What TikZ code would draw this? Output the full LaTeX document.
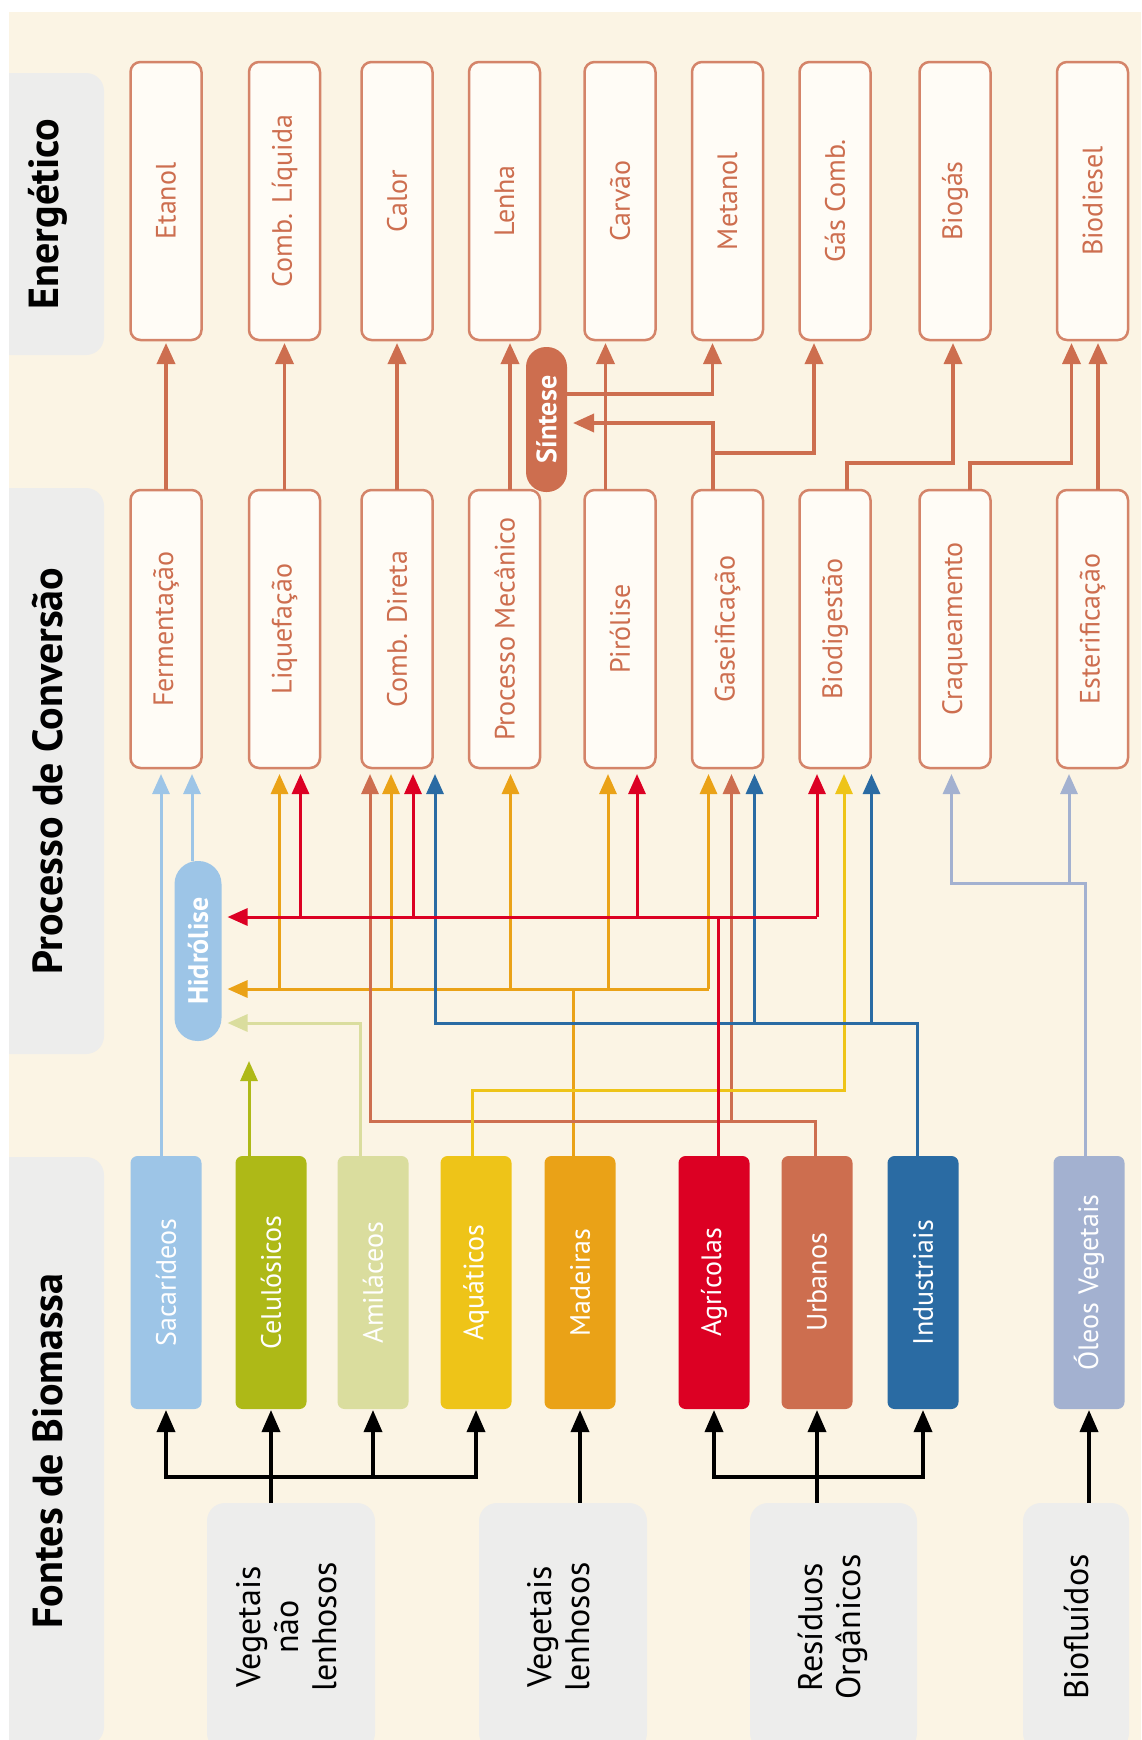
\documentclass[tikz,border=0pt]{standalone}
\usepackage{fontspec}
\setmainfont{PT Sans}
\usepackage{tikz}
\usetikzlibrary{positioning,arrows.meta}
\definecolor{bgcream}{HTML}{FBF4E4}
\definecolor{panelgrey}{HTML}{EDEDEC}
\definecolor{terra}{HTML}{CD6E4F}
\definecolor{boxfill}{HTML}{FFFCF6}
\definecolor{sacblue}{HTML}{9DC5E7}
\definecolor{celgreen}{HTML}{AEB917}
\definecolor{amipale}{HTML}{DADD9E}
\definecolor{aquyellow}{HTML}{EEC418}
\definecolor{madorange}{HTML}{EAA217}
\definecolor{agrred}{HTML}{DC0023}
\definecolor{indblue}{HTML}{2A6BA3}
\definecolor{olelilac}{HTML}{A3B1D0}

\begin{document}
\begin{tikzpicture}[x=1pt, y=-1pt,
    enbox/.style={draw=terra!85, fill=boxfill, line width=2.5pt, rounded corners=10pt, minimum width=71pt, minimum height=278pt, inner sep=0pt, outer sep=0pt, text=terra, font=\fontsize{28}{32}\selectfont},
    srcbox/.style={fill=#1, rounded corners=7pt, minimum width=71pt, minimum height=253pt, inner sep=0pt, outer sep=0pt, text=white, font=\fontsize{28}{32}\selectfont},
    pill/.style={fill=#1, rounded corners=20pt, inner sep=0pt, outer sep=0pt, text=white, font=\bfseries\fontsize{28}{32}\selectfont},
    panel/.style={fill=panelgrey, rounded corners=18pt, inner sep=0pt, outer sep=0pt, minimum width=112pt, font=\bfseries\fontsize{42}{46}\selectfont},
    grp/.style={fill=panelgrey, rounded corners=18pt, inner sep=0pt, outer sep=0pt, minimum height=248pt, font=\fontsize{34}{38}\selectfont},
    wire/.style={line width=3pt, draw=#1},
    feed/.style={wire=#1, -{Triangle[width=17pt,length=20pt]}, shorten >=6pt},
    outarr/.style={line width=3.5pt, draw=terra, -{Triangle[width=18pt,length=21pt]}, shorten >=3pt},
    blkarr/.style={line width=3.5pt, -{Triangle[width=18pt,length=22pt]}, shorten >=1pt}]
  \useasboundingbox (0,0) rectangle (1141,1740);
  \fill[bgcream] (9,12) rectangle (1141,1740);
  \begin{scope}
    \clip (9,12) rectangle (1141,1740);
    \node[panel, minimum height=282pt] (penerg) at (48,214) {\rotatebox{90}{Energético}};
    \node[panel, minimum height=566pt] (pproc) at (48,771) {\rotatebox{90}{Processo de Conversão}};
    \node[panel, minimum height=588pt] (pfontes) at (48,1451) {\rotatebox{90}{Fontes de Biomassa}};
    \node[grp, minimum width=168pt] (gvnl) at (291,1627) {\rotatebox{90}{\begin{tabular}{@{}c@{}}Vegetais\\não\\lenhosos\end{tabular}}};
    \node[grp, minimum width=168pt] (gvl) at (563,1627) {\rotatebox{90}{\begin{tabular}{@{}c@{}}Vegetais\\lenhosos\end{tabular}}};
    \node[grp, minimum width=167pt] (gres) at (833.5,1627) {\rotatebox{90}{\begin{tabular}{@{}c@{}}Resíduos\\Orgânicos\end{tabular}}};
    \node[grp, minimum width=106pt] (gbio) at (1076,1627) {\rotatebox{90}{Biofluídos}};
  \end{scope}

  \node[enbox] (etanol) at (166,201) {\rotatebox{90}{Etanol}};
  \node[enbox, right=47.5pt of etanol] (combliq) {\rotatebox{90}{Comb. Líquida}};
  \node[enbox, right=41.5pt of combliq] (calor) {\rotatebox{90}{Calor}};
  \node[enbox, right=36.5pt of calor] (lenha) {\rotatebox{90}{Lenha}};
  \node[enbox, right=44.5pt of lenha] (carvao) {\rotatebox{90}{Carvão}};
  \node[enbox, right=36.5pt of carvao] (metanol) {\rotatebox{90}{Metanol}};
  \node[enbox, right=36.5pt of metanol] (gascomb) {\rotatebox{90}{Gás Comb.}};
  \node[enbox, right=49pt of gascomb] (biogas) {\rotatebox{90}{Biogás}};
  \node[enbox, right=66.5pt of biogas] (biodiesel) {\rotatebox{90}{Biodiesel}};

  \node[enbox, below=150pt of etanol] (ferment) {\rotatebox{90}{Fermentação}};
  \node[enbox, below=150pt of combliq] (liquef) {\rotatebox{90}{Liquefação}};
  \node[enbox, below=150pt of calor] (combdir) {\rotatebox{90}{Comb. Direta}};
  \node[enbox, below=150pt of lenha] (procmec) {\rotatebox{90}{Processo Mecânico}};
  \node[enbox, below=150pt of carvao] (pirolise) {\rotatebox{90}{Pirólise}};
  \node[enbox, below=150pt of metanol] (gaseif) {\rotatebox{90}{Gaseificação}};
  \node[enbox, below=150pt of gascomb] (biodig) {\rotatebox{90}{Biodigestão}};
  \node[enbox, below=150pt of biogas] (craq) {\rotatebox{90}{Craqueamento}};
  \node[enbox, below=150pt of biodiesel] (ester) {\rotatebox{90}{Esterificação}};

  \node[srcbox=sacblue] (sacar) at (166,1282.5) {\rotatebox{90}{Sacarídeos}};
  \node[srcbox=celgreen, right=34pt of sacar] (celul) {\rotatebox{90}{Celulósicos}};
  \node[srcbox=amipale, right=31pt of celul] (amil) {\rotatebox{90}{Amiláceos}};
  \node[srcbox=aquyellow, right=32pt of amil] (aquat) {\rotatebox{90}{Aquáticos}};
  \node[srcbox=madorange, right=33pt of aquat] (madeir) {\rotatebox{90}{Madeiras}};
  \node[srcbox=agrred, right=63pt of madeir] (agric) {\rotatebox{90}{Agrícolas}};
  \node[srcbox=terra, right=32pt of agric] (urban) {\rotatebox{90}{Urbanos}};
  \node[srcbox=indblue, right=35pt of urban] (indust) {\rotatebox{90}{Industriais}};
  \node[srcbox=olelilac, right=95pt of indust] (oleos) {\rotatebox{90}{Óleos Vegetais}};

  \node[pill=sacblue, rounded corners=23pt, minimum width=47pt, minimum height=180pt] (hidrol) at (198,951) {\rotatebox{90}{Hidrólise}};
  \node[pill=terra, minimum width=41pt, minimum height=145pt] (sintese) at (546.5,419.5) {\rotatebox{90}{Síntese}};

  \coordinate (yagr) at ([yshift=34pt]hidrol.east);
  \coordinate (ymad) at ([yshift=-38pt]hidrol.east);
  \coordinate (yami) at ([yshift=-72pt]hidrol.east);
  \coordinate (yurb) at ([yshift=35pt]urban.north);
  \coordinate (yaqu) at ([yshift=65.5pt]aquat.north);
  \coordinate (yole) at ([yshift=272.5pt]oleos.north);
  \coordinate (celtip) at ([xshift=-22pt,yshift=-14pt]celul.north |- hidrol.south);

  \draw[feed=sacblue] ([xshift=-5pt]sacar.north) -- ([xshift=-5pt]ferment.south);
  \draw[feed=sacblue] ([xshift=-6pt]hidrol.north) -- ([xshift=26pt]ferment.south);
  \draw[feed=celgreen] ([xshift=-22pt]celul.north) -- (celtip);
  \draw[feed=amipale] ([xshift=-13pt]amil.north) |- (yami);

  \draw[wire=madorange] ([xshift=-7pt]madeir.north) -- ([xshift=-7pt]madeir.north |- ymad);
  \draw[feed=madorange] ([xshift=-19pt]gaseif.south |- ymad) -- (ymad);
  \foreach \p/\s in {liquef/-5pt, combdir/-6pt, procmec/6pt, pirolise/-12pt, gaseif/-19pt}
    \draw[feed=madorange] ([xshift=\s]\p.south |- ymad) -- ([xshift=\s]\p.south);

  \draw[feed=terra] ([xshift=-2pt]urban.north) |- ([xshift=-27pt]combdir.south |- yurb) -- ([xshift=-27pt]combdir.south);
  \draw[feed=terra] ([xshift=4pt]gaseif.south |- yurb) -- ([xshift=4pt]gaseif.south);

  \draw[feed=aquyellow] ([xshift=-4pt]aquat.north) |- ([xshift=9pt]biodig.south |- yaqu) -- ([xshift=9pt]biodig.south);

  \draw[feed=indblue] ([xshift=-5.5pt]indust.north) |- ([xshift=38pt]combdir.south |- yami) -- ([xshift=38pt]combdir.south);
  \foreach \p/\s in {gaseif/27pt, biodig/36.5pt}
    \draw[feed=indblue] ([xshift=\s]\p.south |- yami) -- ([xshift=\s]\p.south);

  \draw[wire=agrred] ([xshift=4.5pt]agric.north) -- ([xshift=4.5pt]agric.north |- yagr);
  \draw[feed=agrred] ([xshift=-18pt]biodig.south |- yagr) -- (yagr);
  \foreach \p/\s in {liquef/16pt, combdir/16pt, pirolise/17pt, biodig/-18pt}
    \draw[feed=agrred] ([xshift=\s]\p.south |- yagr) -- ([xshift=\s]\p.south);

  \draw[feed=olelilac] ([xshift=-4pt]oleos.north) |- ([xshift=-3.5pt]craq.south |- yole) -- ([xshift=-3.5pt]craq.south);
  \draw[feed=olelilac] ([xshift=-23.5pt]ester.south |- yole) -- ([xshift=-23.5pt]ester.south);

  \draw[outarr] (ferment.north) -- (etanol.south);
  \draw[outarr] (liquef.north) -- (combliq.south);
  \draw[outarr] (combdir.north) -- (calor.south);
  \draw[outarr] ([xshift=5.5pt]procmec.north) -- ([xshift=5.5pt]lenha.south);
  \draw[outarr] ([xshift=-14.5pt]pirolise.north) -- ([xshift=-14.5pt]carvao.south);
  \draw[outarr, shorten >=6pt] ([xshift=-14.5pt]gaseif.north) |- ([yshift=-3.5pt]sintese.east);
  \coordinate (jgas) at ([xshift=-14.5pt,yshift=37pt]gaseif.north);
  \draw[outarr] (jgas) -| ([xshift=-21pt]gascomb.south);
  \draw[outarr] ([yshift=25.5pt]sintese.east) -| ([xshift=-15pt]metanol.south);
  \draw[outarr] ([xshift=12pt]biodig.north) -- ++(0,-27) -| ([xshift=-2pt]biogas.south);
  \draw[outarr] ([xshift=15pt]craq.north) -- ++(0,-27) -| ([xshift=-21pt]biodiesel.south);
  \draw[outarr] ([xshift=5.5pt]ester.north) -- ([xshift=5.5pt]biodiesel.south);

  \coordinate (vnlbar) at ([yshift=26pt]gvnl.north -| celul.south);
  \draw[blkarr] (gvnl.north -| celul.south) -- (celul.south);
  \draw[blkarr] (vnlbar) -| (sacar.south);
  \draw[blkarr] (vnlbar) -| (aquat.south);
  \draw[blkarr] (vnlbar -| amil.south) -- (amil.south);
  \draw[blkarr] (gvl.north -| madeir.south) -- (madeir.south);
  \coordinate (resbar) at ([yshift=26pt]gres.north -| urban.south);
  \draw[blkarr] (gres.north -| urban.south) -- (urban.south);
  \draw[blkarr] (resbar) -| (agric.south);
  \draw[blkarr] (resbar) -| (indust.south);
  \draw[blkarr] (gbio.north -| oleos.south) -- (oleos.south);
\end{tikzpicture}
\end{document}
